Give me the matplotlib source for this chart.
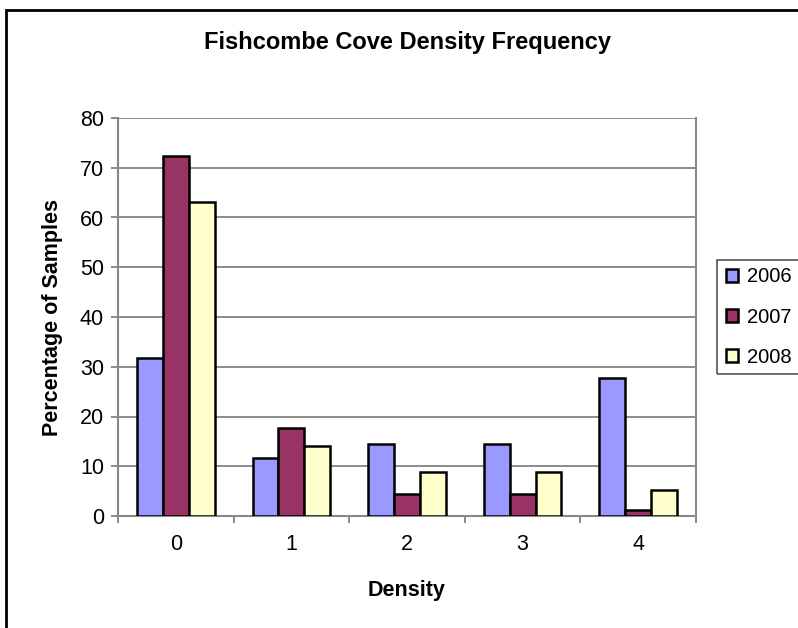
import matplotlib
matplotlib.use("Agg")
import matplotlib.pyplot as plt
import matplotlib.patches as mpatches
import numpy as np

# ── Datos ──────────────────────────────────────────────────────────────────────
categories = ["0", "1", "2", "3", "4"]
years      = ["2006", "2007", "2008"]
pct_2006   = [31.8, 11.7, 14.5, 14.5, 27.7]
pct_2007   = [72.4, 17.6, 4.4, 4.4, 1.2]
pct_2008   = [63.1, 14.1, 8.8, 8.8, 5.2]
colors     = ["#9999FF", "#993366", "#FFFFCC"]

plt.rcParams["font.family"] = ["Liberation Sans", "DejaVu Sans"]

W, H = 798, 628
fig = plt.figure(figsize=(W / 100, H / 100), dpi=100)
ax = fig.add_axes([118 / W, 1 - 516 / H, 578 / W, 398 / H])

x = np.arange(len(categories))
bw = 0.224
for i, (vals, col, lab) in enumerate(zip([pct_2006, pct_2007, pct_2008], colors, years)):
    ax.bar(x + (i - 1) * bw, vals, width=bw, color=col, edgecolor="black",
           linewidth=1.8, label=lab, zorder=3)

ax.set_xlim(-0.5, len(categories) - 0.5)
ax.set_ylim(0, 80)
ax.set_yticks(range(0, 81, 10))
ax.yaxis.grid(True, color="#777777", linewidth=1.2, zorder=0)
ax.set_xticks(x)
ax.set_xticklabels(categories)
ax.set_xticks(np.arange(-0.5, len(categories), 1), minor=True)
ax.tick_params(axis="x", which="major", length=0, pad=13, labelsize=15.5)
ax.tick_params(axis="x", which="minor", length=5, color="#777777", width=1.2)
ax.tick_params(axis="y", length=5, color="#777777", width=1.2, labelsize=15.5, pad=5)

for s in ["left", "bottom", "right"]:
    ax.spines[s].set_color("#888888")
    ax.spines[s].set_linewidth(1.5)
ax.spines["top"].set_visible(False)

ax.set_xlabel("Density", fontsize=15.5, fontweight="bold", labelpad=18)
ax.set_ylabel("Percentage of Samples", fontsize=15.5, fontweight="bold", labelpad=12)
fig.text(408 / W, 1 - 43 / H, "Fishcombe Cove Density Frequency",
         ha="center", va="center", fontsize=17, fontweight="bold")

# Marco exterior (recortado por el borde de la imagen)
fig.patches.append(mpatches.Rectangle((6 / W, -0.1), 1.0, 1 - 10 / H + 0.1,
                                      transform=fig.transFigure, fill=False,
                                      edgecolor="black", linewidth=2))

# Leyenda
fig.patches.append(mpatches.Rectangle((717 / W, 1 - 374 / H), 0.2, 114 / H,
                                      transform=fig.transFigure, fill=False,
                                      edgecolor="#555555", linewidth=1.2))
handles, labels = ax.get_legend_handles_labels()
leg = fig.legend(handles, labels, loc="center left",
                 bbox_to_anchor=(708 / W, 1 - 317 / H), frameon=False,
                 fontsize=14.5, handlelength=0.6, handleheight=0.6,
                 handletextpad=0.45, labelspacing=1.05)

fig.savefig("out.png", dpi=100)
